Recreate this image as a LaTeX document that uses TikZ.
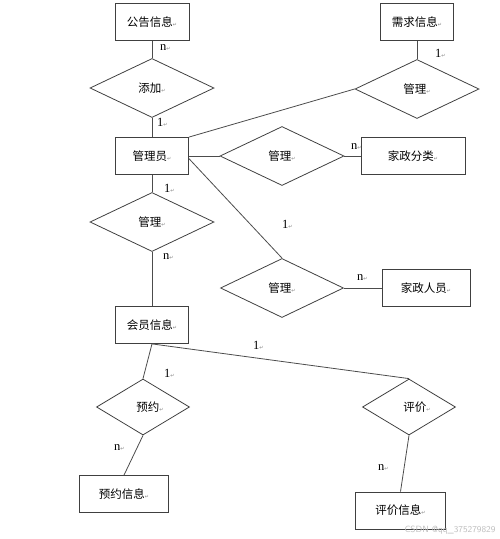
\documentclass[tikz,border=0pt]{standalone}
\usepackage{fontspec}
\setmainfont{Liberation Serif}
\newfontfamily\cjk{Noto Sans CJK SC}
\newfontfamily\symfont{DejaVu Sans}
\usetikzlibrary{positioning,shapes.geometric}

\newcommand\ret{{\symfont\fontsize{5}{5}\selectfont\color{gray}↵}}

\tikzset{
  entity/.style={draw=black!75, line width=0.8pt, inner sep=0pt, minimum height=37pt,
    font=\cjk\fontsize{11.5}{13}\selectfont},
  relation/.style={diamond, draw=black!75, line width=0.8pt, inner sep=0pt,
    minimum width=124pt, minimum height=59pt, font=\cjk\fontsize{11.5}{13}\selectfont},
  card/.style={anchor=west, inner sep=0pt, font=\fontsize{12.5}{13}\selectfont},
  link/.style={draw=black!70, line width=0.8pt},
}

\begin{document}
\begin{tikzpicture}[x=1pt, y=-1pt, on grid]
      \useasboundingbox (0,0) rectangle (500,539);

        \node [entity, minimum width=74pt] (gonggao) at (152,22) {公告信息\ret};
        \node [relation, below=66pt of gonggao] (tianjia) {添加\ret};
        \node [entity, minimum width=73pt, below=68pt of tianjia] (admin) {管理员\ret};
        \node [relation, below=66pt of admin] (guanli3) {管理\ret};
        \node [entity, minimum width=73pt, below=103pt of guanli3] (huiyuan) {会员信息\ret};

        \node [relation, right=130pt of admin] (guanli2) {管理\ret};
        \node [entity, minimum width=104pt, right=131pt of guanli2] (fenlei) {家政分类\ret\hspace{8pt}};
        \node [relation, above right=67pt and 135pt of guanli2] (guanli1) {管理\ret};
        \node [entity, minimum width=73pt, above=67pt of guanli1] (xuqiu) {需求信息\ret};
        \node [relation, minimum width=123pt, below=132pt of guanli2] (guanli4) {管理\ret};
        \node [entity, minimum width=88pt, right=144pt of guanli4] (renyuan) {家政人员\ret\hspace{18pt}};

        \node [relation, minimum width=93pt, minimum height=56pt,
          below left=82pt and 9pt of huiyuan] (yuyue) {\hspace{14pt}预约\ret};
        \node [entity, minimum width=89pt, below left=87pt and 19pt of yuyue] (yuyuexx) {预约信息\ret\hspace{16pt}};
        \node [relation, minimum width=93pt, minimum height=56pt,
          below right=82pt and 257pt of huiyuan] (pingjia) {\hspace{16pt}评价\ret};
        \node [entity, minimum width=90pt, below left=103.5pt and 8.5pt of pingjia] (pingjiaxx) {评价信息\ret\hspace{16pt}};

        \node [card] (c1) at (160,48) {n\ret};
        \node [card] (c2) at (157,122) {1\ret};
        \node [card] (c3) at (435,53) {1\ret};
        \node [card] (c4) at (351,147) {n\ret};
        \node [card] (c5) at (164,188) {1\ret};
        \node [card] (c6) at (163,257) {n\ret};
        \node [card] (c7) at (282,224) {1\ret};
        \node [card] (c8) at (357,278) {n\ret};
        \node [card] (c9) at (164,373) {1\ret};
        \node [card] (c10) at (253,345) {1\ret};
        \node [card] (c11) at (114,448) {n\ret};
        \node [card] (c12) at (378,468) {n\ret};

        \node [anchor=east, text=black!25, font=\sffamily\fontsize{9}{10}\selectfont] (mark) at (499,530) {CSDN @qq\_375279829};

        \draw [link] (gonggao.south) -- (tianjia.north);
        \draw [link] (tianjia.south) -- (admin.north);
        \draw [link] (admin.north east) -- (guanli1.west);
        \draw [link] (xuqiu.south) -- (guanli1.north);
        \draw [link] (admin.east) -- (guanli2.west);
        \draw [link] (guanli2.east) -- (fenlei.west);
        \draw [link] (admin.-4) -- (guanli4.north);
        \draw [link] (guanli4.east) -- (renyuan.west);
        \draw [link] (admin.south) -- (guanli3.north);
        \draw [link] (guanli3.south) -- (huiyuan.north);
        \draw [link] (huiyuan.south) -- (yuyue.north);
        \draw [link] (yuyue.south) -- (yuyuexx.north);
        \draw [link] (huiyuan.south) -- (pingjia.north);
        \draw [link] (pingjia.south) -- (pingjiaxx.north);
    \end{tikzpicture}
\end{document}
